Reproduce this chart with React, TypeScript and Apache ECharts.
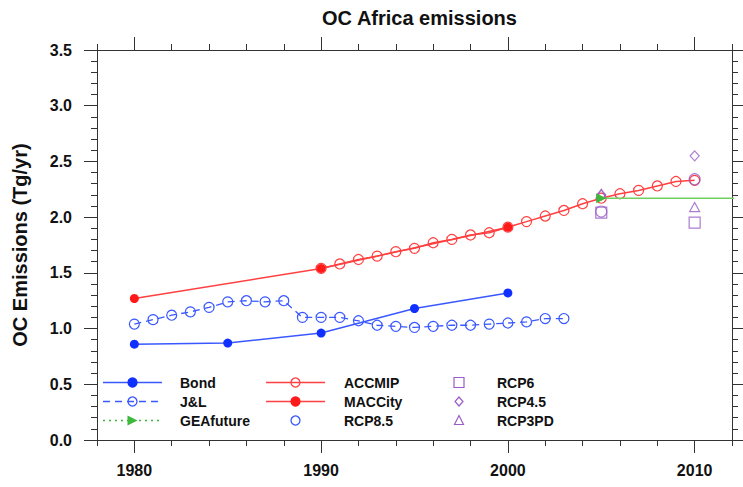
import React, { useEffect, useRef } from "react";
import * as echarts from "echarts";

// Annual OC emissions over Africa (Tg/yr) from several inventories
const bondYears = [1980, 1985, 1990, 1995, 2000];
const bondValues = [0.86, 0.87, 0.96, 1.18, 1.32];

const jlYears = [
  1980, 1981, 1982, 1983, 1984, 1985, 1986, 1987, 1988, 1989, 1990, 1991,
  1992, 1993, 1994, 1995, 1996, 1997, 1998, 1999, 2000, 2001, 2002, 2003,
];
const jlValues = [
  1.04, 1.08, 1.12, 1.15, 1.19, 1.24, 1.25, 1.24, 1.25, 1.1, 1.1, 1.1,
  1.07, 1.03, 1.02, 1.01, 1.02, 1.03, 1.03, 1.04, 1.05, 1.06, 1.09, 1.09,
];

const accmipYears = [
  1990, 1991, 1992, 1993, 1994, 1995, 1996, 1997, 1998, 1999, 2000, 2001,
  2002, 2003, 2004, 2005, 2006, 2007, 2008, 2009, 2010,
];
const accmipValues = [
  1.54, 1.58, 1.62, 1.65, 1.69, 1.72, 1.77, 1.8, 1.84, 1.86, 1.91, 1.96,
  2.01, 2.06, 2.12, 2.17, 2.21, 2.24, 2.28, 2.32, 2.33,
];

const maccYears = [1980, 1990, 2000];
const maccValues = [1.27, 1.54, 1.91];

const geaYears = [2005, 2020];
const geaValues = [2.17, 2.17];

const rcpYears = [2005, 2010];
const rcp85Values = [2.05, 2.34];
const rcp6Values = [2.04, 1.95];
const rcp45Values = [2.2, 2.55];
const rcp3pdValues = [2.21, 2.09];

const xLabelYears = [1980, 1990, 2000, 2010];

const FONT = "'Liberation Sans', Arial, Helvetica, sans-serif";
const BLUE = "#1030ff";
const BLUE_LINE = "#3a58ff";
const RED = "#ff1a1a";
const RED_LINE = "#ff4040";
const GREEN = "#3cb83c";
const GREEN_LINE = "#70d060";
const PURPLE = "#9a5cc6";
const AXIS = "#333";
const CLEAR = "rgba(255,255,255,0)";

const pairs = (xs: number[], ys: number[]) => xs.map((x, i) => [x, ys[i]]);

function legendGraphics() {
  const rows = [382.5, 401.5, 420.5];
  const text = (x: number, y: number, t: string) => ({
    type: "text",
    x,
    y,
    style: {
      text: t,
      font: `bold 14px ${FONT}`,
      fill: "#111",
      textVerticalAlign: "middle",
      textAlign: "left",
    },
  });
  const seg = (x1: number, x2: number, y: number, stroke: string, dash?: number[]) => ({
    type: "line",
    shape: { x1, y1: y, x2, y2: y },
    style: { stroke, lineWidth: 1.6, lineDash: dash },
  });
  const dot = (cx: number, cy: number, fill: string, stroke: string) => ({
    type: "circle",
    shape: { cx, cy, r: 4.5 },
    style: { fill, stroke, lineWidth: 1.3 },
  });
  const c1a = 103, c1b = 162, c1m = 132.5, c1t = 180;
  const c2a = 266, c2b = 325, c2m = 295.5, c2t = 344;
  const c3m = 459, c3t = 497;
  return [
    seg(c1a, c1b, rows[0], BLUE_LINE),
    dot(c1m, rows[0], BLUE, BLUE),
    text(c1t, rows[0], "Bond"),
    seg(c1a, c1b, rows[1], BLUE_LINE, [7, 5]),
    dot(c1m, rows[1], CLEAR, BLUE_LINE),
    text(c1t, rows[1], "J&L"),
    seg(c1a, c1b, rows[2], GREEN, [2, 4]),
    {
      type: "polygon",
      shape: { points: [[c1m - 5, rows[2] - 5], [c1m + 5, rows[2]], [c1m - 5, rows[2] + 5]] },
      style: { fill: GREEN },
    },
    text(c1t, rows[2], "GEAfuture"),
    seg(c2a, c2b, rows[0], RED_LINE),
    dot(c2m, rows[0], CLEAR, RED_LINE),
    text(c2t, rows[0], "ACCMIP"),
    seg(c2a, c2b, rows[1], RED_LINE),
    dot(c2m, rows[1], RED, RED),
    text(c2t, rows[1], "MACCity"),
    dot(c2m, rows[2], CLEAR, BLUE_LINE),
    text(c2t, rows[2], "RCP8.5"),
    {
      type: "rect",
      shape: { x: c3m - 5, y: rows[0] - 5, width: 10, height: 10 },
      style: { fill: CLEAR, stroke: PURPLE, lineWidth: 1.2 },
    },
    text(c3t, rows[0], "RCP6"),
    {
      type: "polygon",
      shape: {
        points: [[c3m, rows[1] - 4.5], [c3m + 4, rows[1]], [c3m, rows[1] + 4.5], [c3m - 4, rows[1]]],
      },
      style: { fill: CLEAR, stroke: PURPLE, lineWidth: 1.2 },
    },
    text(c3t, rows[1], "RCP4.5"),
    {
      type: "polygon",
      shape: {
        points: [[c3m, rows[2] - 5], [c3m + 4.5, rows[2] + 4], [c3m - 4.5, rows[2] + 4]],
      },
      style: { fill: CLEAR, stroke: PURPLE, lineWidth: 1.2 },
    },
    text(c3t, rows[2], "RCP3PD"),
  ];
}

export default function App() {
  const ref = useRef<HTMLDivElement>(null);

  useEffect(() => {
    if (!ref.current) return;
    const chart = echarts.init(ref.current, undefined, { renderer: "svg" });

    const xBase = {
      type: "value",
      min: 1978,
      max: 2012,
      splitLine: { show: false },
      axisLine: { show: true, onZero: false, lineStyle: { color: AXIS, width: 1 } },
    };
    const yBase = {
      type: "value",
      min: 0,
      max: 3.5,
      interval: 0.5,
      splitLine: { show: false },
      axisLine: { show: true, onZero: false, lineStyle: { color: AXIS, width: 1 } },
      axisTick: { show: true, inside: false, length: 13, lineStyle: { color: AXIS } },
      minorTick: { show: true, splitNumber: 5, length: 6, lineStyle: { color: AXIS } },
    };

    const openItem = (color: string) => ({ color: CLEAR, borderColor: color, borderWidth: 1.2 });

    chart.setOption({
      animation: false,
      backgroundColor: "#fff",
      title: {
        text: "OC Africa emissions",
        left: 414.5,
        top: 3,
        textAlign: "center",
        textStyle: { fontFamily: FONT, fontWeight: "bold", fontSize: 20, color: "#111" },
      },
      grid: { left: 97, right: 11, top: 50, bottom: 47, containLabel: false, outerBoundsMode: "none" },
      xAxis: [
        {
          ...xBase,
          position: "bottom",
          axisTick: { show: true, inside: false, length: 13, customValues: xLabelYears, lineStyle: { color: AXIS } },
          axisLabel: {
            show: true,
            customValues: xLabelYears,
            margin: 22,
            fontFamily: FONT,
            fontWeight: "bold",
            fontSize: 16,
            color: "#111",
            formatter: (v: number) => String(v),
          },
        },
        {
          ...xBase,
          position: "bottom",
          interval: 2,
          axisTick: { show: true, inside: false, length: 6, lineStyle: { color: AXIS } },
          axisLabel: { show: false },
        },
        {
          ...xBase,
          position: "top",
          axisTick: { show: true, inside: false, length: 13, customValues: xLabelYears, lineStyle: { color: AXIS } },
          axisLabel: { show: false, customValues: xLabelYears },
        },
        {
          ...xBase,
          position: "top",
          interval: 2,
          axisTick: { show: true, inside: false, length: 6, lineStyle: { color: AXIS } },
          axisLabel: { show: false },
        },
      ],
      yAxis: [
        {
          ...yBase,
          position: "left",
          name: "OC Emissions (Tg/yr)",
          nameLocation: "middle",
          nameGap: 67,
          nameRotate: 90,
          nameTextStyle: { fontFamily: FONT, fontWeight: "bold", fontSize: 20, color: "#111" },
          axisLabel: {
            margin: 25,
            fontFamily: FONT,
            fontWeight: "bold",
            fontSize: 16,
            color: "#111",
            formatter: (v: number) => v.toFixed(1),
          },
        },
        { ...yBase, position: "right", axisLabel: { show: false } },
      ],
      series: [
        {
          name: "Bond",
          type: "line",
          data: pairs(bondYears, bondValues),
          symbol: "circle",
          symbolSize: 9,
          itemStyle: { color: BLUE },
          lineStyle: { color: BLUE_LINE, width: 1.5 },
          z: 3,
        },
        {
          name: "J&L",
          type: "line",
          data: pairs(jlYears, jlValues),
          symbol: "circle",
          symbolSize: 10,
          itemStyle: openItem(BLUE_LINE),
          lineStyle: { color: BLUE_LINE, width: 1.3, type: [7, 5] },
          z: 3,
        },
        {
          name: "ACCMIP",
          type: "line",
          data: pairs(accmipYears, accmipValues),
          symbol: "circle",
          symbolSize: 10,
          itemStyle: openItem(RED_LINE),
          lineStyle: { color: RED_LINE, width: 1.5 },
          z: 3,
        },
        {
          name: "MACCity",
          type: "line",
          data: pairs(maccYears, maccValues),
          symbol: "circle",
          symbolSize: 9,
          itemStyle: { color: RED },
          lineStyle: { color: RED_LINE, width: 1.5 },
          z: 4,
        },
        {
          name: "RCP8.5",
          type: "scatter",
          data: pairs(rcpYears, rcp85Values),
          symbol: "circle",
          symbolSize: 11,
          itemStyle: openItem(PURPLE),
          z: 5,
        },
        {
          name: "RCP6",
          type: "scatter",
          data: pairs(rcpYears, rcp6Values),
          symbol: "rect",
          symbolSize: 11,
          itemStyle: openItem(PURPLE),
          z: 5,
        },
        {
          name: "RCP4.5",
          type: "scatter",
          data: pairs(rcpYears, rcp45Values),
          symbol: "diamond",
          symbolSize: [9, 10],
          itemStyle: openItem(PURPLE),
          z: 5,
        },
        {
          name: "RCP3PD",
          type: "scatter",
          data: pairs(rcpYears, rcp3pdValues),
          symbol: "triangle",
          symbolSize: [10, 9],
          itemStyle: openItem(PURPLE),
          z: 5,
        },
        {
          name: "GEAfuture",
          type: "line",
          data: geaYears.map((y, i) =>
            i === 0 ? { value: [y, geaValues[i]] } : { value: [y, geaValues[i]], symbol: "none" }
          ),
          symbol: "triangle",
          symbolRotate: -90,
          symbolSize: 10,
          itemStyle: { color: GREEN },
          lineStyle: { color: GREEN_LINE, width: 1.5 },
          clip: true,
          z: 6,
        },
      ],
      graphic: legendGraphics(),
    });

    return () => chart.dispose();
  }, []);

  return (
    <div
      ref={ref}
      style={{ position: "fixed", left: 0, top: 0, width: 743, height: 487, background: "#fff" }}
    />
  );
}
